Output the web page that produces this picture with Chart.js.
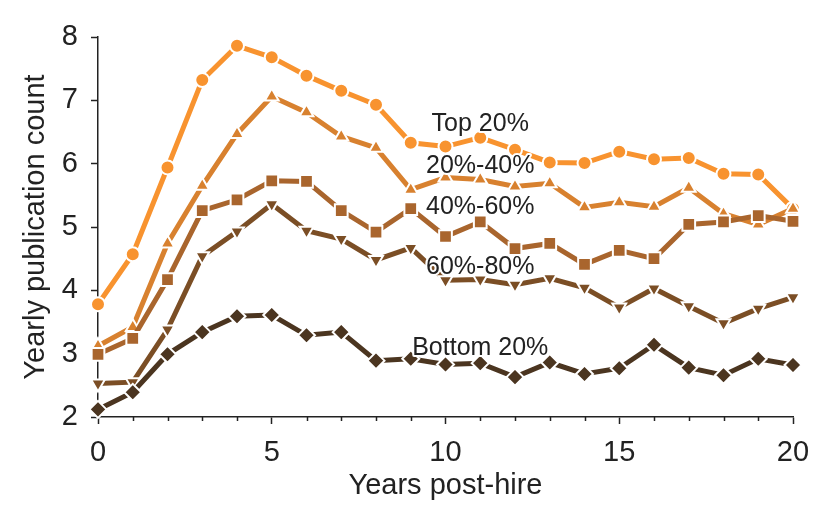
<!DOCTYPE html>
<html>
<head>
<meta charset="utf-8">
<script src="https://cdn.jsdelivr.net/npm/chart.js@4"></script>
<style>
  body { margin: 0; background: #fff; }
</style>
</head>
<body>
<canvas id="pubChart" width="830" height="529"></canvas>
<script>
// values
const years = [0, 1, 2, 3, 4, 5, 6, 7, 8, 9, 10, 11, 12, 13, 14, 15, 16, 17, 18, 19, 20];
const top20 = [3.78, 4.57, 5.94, 7.32, 7.86, 7.68, 7.39, 7.15, 6.93, 6.33, 6.27, 6.41, 6.22, 6.02, 6.01, 6.19, 6.07, 6.09, 5.84, 5.83, 5.29];
const pct20to40 = [3.12, 3.42, 4.74, 5.65, 6.47, 7.06, 6.81, 6.43, 6.25, 5.59, 5.78, 5.75, 5.64, 5.69, 5.31, 5.39, 5.32, 5.62, 5.21, 5.04, 5.29];
const pct40to60 = [2.99, 3.24, 4.17, 5.26, 5.43, 5.73, 5.72, 5.26, 4.92, 5.29, 4.85, 5.08, 4.66, 4.74, 4.41, 4.63, 4.50, 5.04, 5.08, 5.18, 5.09];
const pct60to80 = [2.53, 2.55, 3.38, 4.54, 4.93, 5.36, 4.94, 4.81, 4.48, 4.67, 4.16, 4.17, 4.09, 4.19, 4.04, 3.73, 4.03, 3.75, 3.48, 3.71, 3.89];
const bottom20 = [2.12, 2.39, 2.99, 3.34, 3.59, 3.61, 3.29, 3.34, 2.89, 2.92, 2.83, 2.85, 2.63, 2.86, 2.68, 2.77, 3.14, 2.78, 2.66, 2.92, 2.82];
const seriesNames = ['Top 20%', '20%-40%', '40%-60%', '60%-80%', 'Bottom 20%'];
const yTicks = [2, 3, 4, 5, 6, 7, 8];
const xTickLabels = [0, 5, 10, 15, 20];

const FONT = '"Liberation Sans", Arial, Helvetica, sans-serif';
const INK = '#222';

function series(i, values, color, style, rotation, radius) {
  return {
    label: seriesNames[i],
    data: years.map((yr, k) => ({ x: yr, y: values[k] })),
    borderColor: color,
    backgroundColor: color,
    borderWidth: 5,
    pointStyle: style,
    rotation: rotation,
    pointRadius: radius,
    pointBorderColor: '#fff',
    pointBorderWidth: 2,
    pointBackgroundColor: color,
    clip: false,
    order: 5 - i
  };
}

// text labels placed next to each curve (data coords)
const labelSpots = [[11, 6.62], [11, 5.96], [11, 5.31], [11, 4.37], [11, 3.08]];
const seriesLabels = {
  id: 'seriesLabels',
  afterDatasetsDraw(chart) {
    const { ctx, scales: { x, y } } = chart;
    ctx.save();
    ctx.font = '25px ' + FONT;
    ctx.textAlign = 'center';
    ctx.textBaseline = 'middle';
    ctx.lineJoin = 'round';
    seriesNames.forEach((name, i) => {
      const px = x.getPixelForValue(labelSpots[i][0]);
      const py = y.getPixelForValue(labelSpots[i][1]);
      ctx.strokeStyle = '#fff';
      ctx.lineWidth = 4;
      ctx.strokeText(name, px, py);
      ctx.fillStyle = INK;
      ctx.fillText(name, px, py);
    });
    ctx.restore();
  }
};

// short ticks for the years between the labelled ones
const minorTicks = {
  id: 'minorTicks',
  afterDraw(chart) {
    const { ctx, scales: { x } } = chart;
    ctx.save();
    ctx.strokeStyle = INK;
    ctx.lineWidth = 1.5;
    x.ticks.forEach(t => {
      if (xTickLabels.includes(t.value)) return;
      const px = Math.round(x.getPixelForValue(t.value)) + 0.5;
      ctx.beginPath();
      ctx.moveTo(px, x.top);
      ctx.lineTo(px, x.top + 4);
      ctx.stroke();
    });
    ctx.restore();
  }
};

new Chart(document.getElementById('pubChart'), {
  type: 'line',
  data: {
    datasets: [
      series(0, top20, '#F8932F', 'circle', 0, 7),
      series(1, pct20to40, '#D8812F', 'triangle', 0, 8),
      series(2, pct40to60, '#A9652D', 'rect', 0, 9),
      series(3, pct60to80, '#7B4E25', 'triangle', 180, 8),
      series(4, bottom20, '#4B3520', 'rectRot', 0, 8.5)
    ]
  },
  options: {
    responsive: false,
    animation: false,
    layout: { padding: { top: 37, right: 37, left: 0, bottom: 0 } },
    plugins: { legend: { display: false }, tooltip: { enabled: false } },
    scales: {
      x: {
        type: 'linear',
        min: 0,
        max: 20,
        afterFit: s => { s.height = 112; },
        border: { color: INK, width: 1.5 },
        grid: {
          drawOnChartArea: false,
          tickLength: 7,
          tickWidth: 1.5,
          tickColor: c => xTickLabels.includes(c.tick.value) ? INK : 'rgba(0,0,0,0)'
        },
        ticks: {
          stepSize: 1,
          autoSkip: false,
          maxRotation: 0,
          padding: 12,
          color: INK,
          font: { family: FONT, size: 29 },
          callback: v => xTickLabels.includes(v) ? String(v) : ''
        },
        title: {
          display: true,
          text: 'Years post-hire',
          color: INK,
          font: { family: FONT, size: 29 },
          padding: { top: 0, bottom: 26 }
        }
      },
      y: {
        min: 2,
        max: 8,
        afterFit: s => { s.width = 98; },
        afterBuildTicks: s => { s.ticks = yTicks.map(v => ({ value: v })); },
        border: { color: INK, width: 1.5 },
        grid: { drawOnChartArea: false, tickLength: 7, tickWidth: 1.5, tickColor: INK },
        ticks: {
          padding: 13,
          color: INK,
          font: { family: FONT, size: 29 }
        },
        title: {
          display: true,
          text: 'Yearly publication count',
          color: INK,
          font: { family: FONT, size: 29 },
          padding: { top: 19, bottom: 0 }
        }
      }
    }
  },
  plugins: [seriesLabels, minorTicks]
});
</script>
</body>
</html>
